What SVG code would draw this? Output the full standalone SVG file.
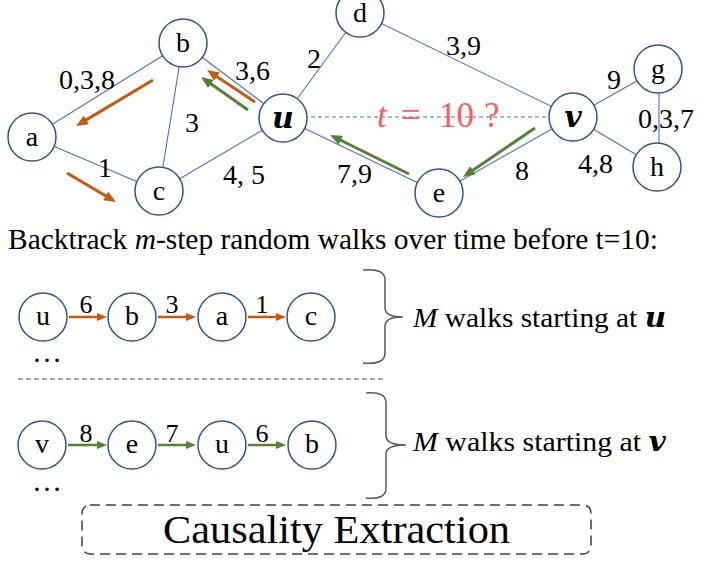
<svg xmlns="http://www.w3.org/2000/svg" width="706" height="562" viewBox="0 0 706 562">
<style>
.edge{stroke:#4472C4;stroke-width:1.1;fill:none}
.node circle{fill:#fff;stroke:#2F5597;stroke-width:1.5}
.or{stroke:#C55A11;stroke-width:3;fill:none;marker-end:url(#ho)}
.gr{stroke:#548235;stroke-width:3;fill:none;marker-end:url(#hg)}
.ors{stroke:#C55A11;stroke-width:2.5;fill:none;marker-end:url(#hso)}
.grs{stroke:#548235;stroke-width:2.5;fill:none;marker-end:url(#hsg)}
.brace{stroke:#595959;stroke-width:1.5;fill:none}
</style>
<defs>
<marker id="ho" markerUnits="userSpaceOnUse" viewBox="0 0 12 10" markerWidth="12" markerHeight="10" refX="4" refY="5" orient="auto"><path d="M0,0 L12,5 L0,10 z" fill="#C55A11"/></marker>
<marker id="hg" markerUnits="userSpaceOnUse" viewBox="0 0 12 10" markerWidth="12" markerHeight="10" refX="4" refY="5" orient="auto"><path d="M0,0 L12,5 L0,10 z" fill="#548235"/></marker>
<marker id="hso" markerUnits="userSpaceOnUse" viewBox="0 0 10 8" markerWidth="10" markerHeight="8" refX="3" refY="4" orient="auto"><path d="M0,0 L10,4 L0,8 z" fill="#C55A11"/></marker>
<marker id="hsg" markerUnits="userSpaceOnUse" viewBox="0 0 10 8" markerWidth="10" markerHeight="8" refX="3" refY="4" orient="auto"><path d="M0,0 L10,4 L0,8 z" fill="#548235"/></marker>
</defs>

<g id="connectors">
<line class="edge" x1="32" y1="137" x2="183" y2="43"/>
<line class="edge" x1="32" y1="137" x2="159" y2="191"/>
<line class="edge" x1="183" y1="43" x2="159" y2="191"/>
<line class="edge" x1="183" y1="43" x2="283" y2="118"/>
<line class="edge" x1="159" y1="191" x2="283" y2="118"/>
<line class="edge" x1="283" y1="118" x2="360" y2="13"/>
<line class="edge" x1="283" y1="118" x2="439" y2="193"/>
<line class="edge" x1="360" y1="13" x2="573" y2="117"/>
<line class="edge" x1="573" y1="117" x2="439" y2="193"/>
<line class="edge" x1="573" y1="117" x2="658" y2="69"/>
<line class="edge" x1="573" y1="117" x2="657" y2="167"/>
<line class="edge" x1="659" y1="69" x2="659" y2="167"/>
<line class="edge" x1="283" y1="117" x2="573" y2="117" stroke-dasharray="4,3"/>
</g>

<g id="edge-labels">
<text font-family="Liberation Serif" font-size="28" x="59" y="89">0,3,8</text>
<text font-family="Liberation Serif" font-size="28" x="105" y="177" text-anchor="middle">1</text>
<text font-family="Liberation Serif" font-size="28" x="192" y="132" text-anchor="middle">3</text>
<text font-family="Liberation Serif" font-size="28" x="235" y="80">3,6</text>
<text font-family="Liberation Serif" font-size="28" x="314" y="68" text-anchor="middle">2</text>
<text font-family="Liberation Serif" font-size="28" x="223" y="184">4, 5</text>
<text font-family="Liberation Serif" font-size="28" x="337" y="183">7,9</text>
<text font-family="Liberation Serif" font-size="28" x="446" y="55">3,9</text>
<text font-family="Liberation Serif" font-size="28" x="614" y="89" text-anchor="middle">9</text>
<text font-family="Liberation Serif" font-size="28" x="638" y="128">0,3,7</text>
<text font-family="Liberation Serif" font-size="28" x="578" y="173">4,8</text>
<text font-family="Liberation Serif" font-size="28" x="522" y="180" text-anchor="middle">8</text>
</g>

<g id="question" fill="#FF5B5B">
<text font-family="Liberation Serif" font-size="35" x="377" y="127" font-style="italic">t</text>
<text font-family="Liberation Serif" font-size="35" x="401" y="127">=</text>
<text font-family="Liberation Serif" font-size="35" x="439" y="127">10</text>
<text font-family="Liberation Serif" font-size="35" x="484" y="127">?</text>
</g>

<g id="node-a" class="node"><circle cx="32" cy="137" r="24"/><text font-family="Liberation Serif" font-size="28" text-anchor="middle" x="32" y="146">a</text></g>
<g id="node-b" class="node"><circle cx="183" cy="43" r="24"/><text font-family="Liberation Serif" font-size="28" text-anchor="middle" x="183" y="52">b</text></g>
<g id="node-c" class="node"><circle cx="159" cy="191" r="24"/><text font-family="Liberation Serif" font-size="28" text-anchor="middle" x="159" y="200">c</text></g>
<g id="node-u" class="node"><circle cx="283" cy="118" r="24"/><text font-family="DejaVu Serif" font-weight="bold" font-style="italic" font-size="30" text-anchor="middle" x="283" y="128">u</text></g>
<g id="node-d" class="node"><circle cx="360" cy="13" r="24"/><text font-family="Liberation Serif" font-size="28" text-anchor="middle" x="360" y="22">d</text></g>
<g id="node-e" class="node"><circle cx="439" cy="193" r="24"/><text font-family="Liberation Serif" font-size="28" text-anchor="middle" x="439" y="202">e</text></g>
<g id="node-v" class="node"><circle cx="573" cy="117" r="24"/><text font-family="DejaVu Serif" font-weight="bold" font-style="italic" font-size="30" text-anchor="middle" x="573" y="127">v</text></g>
<g id="node-g" class="node"><circle cx="658" cy="69" r="24"/><text font-family="Liberation Serif" font-size="28" text-anchor="middle" x="658" y="78">g</text></g>
<g id="node-h" class="node"><circle cx="657" cy="167" r="24"/><text font-family="Liberation Serif" font-size="28" text-anchor="middle" x="657" y="176">h</text></g>

<g id="walk-arrows">
<line class="or" x1="153" y1="80" x2="82.9" y2="121.9"/>
<line class="or" x1="67" y1="173" x2="109.1" y2="197.9"/>
<line class="or" x1="255" y1="102" x2="213.7" y2="74.4"/>
<line class="gr" x1="248" y1="110" x2="207.6" y2="81.6"/>
<line class="gr" x1="409" y1="174" x2="337.2" y2="138.5"/>
<line class="gr" x1="535" y1="128" x2="469.6" y2="172.5"/>
</g>

<text font-family="Liberation Serif" font-size="29" x="8" y="249" textLength="650" lengthAdjust="spacingAndGlyphs">Backtrack <tspan font-style="italic">m</tspan>-step random walks over time before t=10:</text>

<g id="walk-u">
<g id="w1-u" class="node"><circle cx="43" cy="317" r="24"/><text font-family="Liberation Serif" font-size="28" text-anchor="middle" x="43" y="325">u</text></g>
<g id="w1-b" class="node"><circle cx="132" cy="317" r="24"/><text font-family="Liberation Serif" font-size="28" text-anchor="middle" x="132" y="325">b</text></g>
<g id="w1-a" class="node"><circle cx="222" cy="317" r="24"/><text font-family="Liberation Serif" font-size="28" text-anchor="middle" x="222" y="325">a</text></g>
<g id="w1-c" class="node"><circle cx="311" cy="317" r="24"/><text font-family="Liberation Serif" font-size="28" text-anchor="middle" x="311" y="325">c</text></g>
<g id="w1-conn">
<line class="ors" x1="69" y1="317" x2="100" y2="317"/>
<line class="ors" x1="158" y1="317" x2="189" y2="317"/>
<line class="ors" x1="248" y1="317" x2="279" y2="317"/>
</g>
<text font-family="Liberation Serif" font-size="26" text-anchor="middle" x="86" y="312.5">6</text>
<text font-family="Liberation Serif" font-size="26" text-anchor="middle" x="172" y="312.5">3</text>
<text font-family="Liberation Serif" font-size="26" text-anchor="middle" x="262" y="312.5">1</text>
<text font-family="Liberation Serif" font-size="30" x="32" y="362">…</text>
</g>

<line x1="18" y1="379" x2="386" y2="379" stroke="#7F7F7F" stroke-width="1.5" stroke-dasharray="5,3"/>

<path class="brace" d="M363,270 Q385,268 385,280 L385,308 Q385,317 403,317 Q385,317 385,326 L385,353 Q385,365 363,363"/>
<text font-family="Liberation Serif" font-size="27.5" x="413" y="327" textLength="253" lengthAdjust="spacingAndGlyphs"><tspan font-style="italic">M</tspan> walks starting at <tspan font-family="DejaVu Serif" font-weight="bold" font-style="italic">u</tspan></text>

<g id="walk-v">
<g id="w2-v" class="node"><circle cx="42" cy="445" r="24"/><text font-family="Liberation Serif" font-size="28" text-anchor="middle" x="42" y="453">v</text></g>
<g id="w2-e" class="node"><circle cx="132" cy="445" r="24"/><text font-family="Liberation Serif" font-size="28" text-anchor="middle" x="132" y="453">e</text></g>
<g id="w2-u" class="node"><circle cx="222" cy="445" r="24"/><text font-family="Liberation Serif" font-size="28" text-anchor="middle" x="222" y="453">u</text></g>
<g id="w2-b" class="node"><circle cx="312" cy="445" r="24"/><text font-family="Liberation Serif" font-size="28" text-anchor="middle" x="312" y="453">b</text></g>
<g id="w2-conn">
<line class="grs" x1="68" y1="445" x2="100" y2="445"/>
<line class="grs" x1="158" y1="445" x2="189" y2="445"/>
<line class="grs" x1="248" y1="445" x2="279" y2="445"/>
</g>
<text font-family="Liberation Serif" font-size="26" text-anchor="middle" x="86" y="441.5">8</text>
<text font-family="Liberation Serif" font-size="26" text-anchor="middle" x="172" y="441.5">7</text>
<text font-family="Liberation Serif" font-size="26" text-anchor="middle" x="262" y="441.5">6</text>
<text font-family="Liberation Serif" font-size="30" x="32" y="491">…</text>
</g>

<path class="brace" d="M366,393 Q386,391 386,403 L386,436 Q386,445 406,445 Q386,445 386,454 L386,488 Q386,500 366,498"/>
<text font-family="Liberation Serif" font-size="27.5" x="413" y="451" textLength="253" lengthAdjust="spacingAndGlyphs"><tspan font-style="italic">M</tspan> walks starting at <tspan font-family="DejaVu Serif" font-weight="bold" font-style="italic">v</tspan></text>

<g id="causality">
<rect x="82" y="505" width="509" height="49" rx="8" fill="none" stroke="#404040" stroke-width="1.5" stroke-dasharray="10,6"/>
<text font-family="Liberation Serif" font-size="40" x="163" y="543" textLength="347" lengthAdjust="spacingAndGlyphs">Causality Extraction</text>
</g>
</svg>
